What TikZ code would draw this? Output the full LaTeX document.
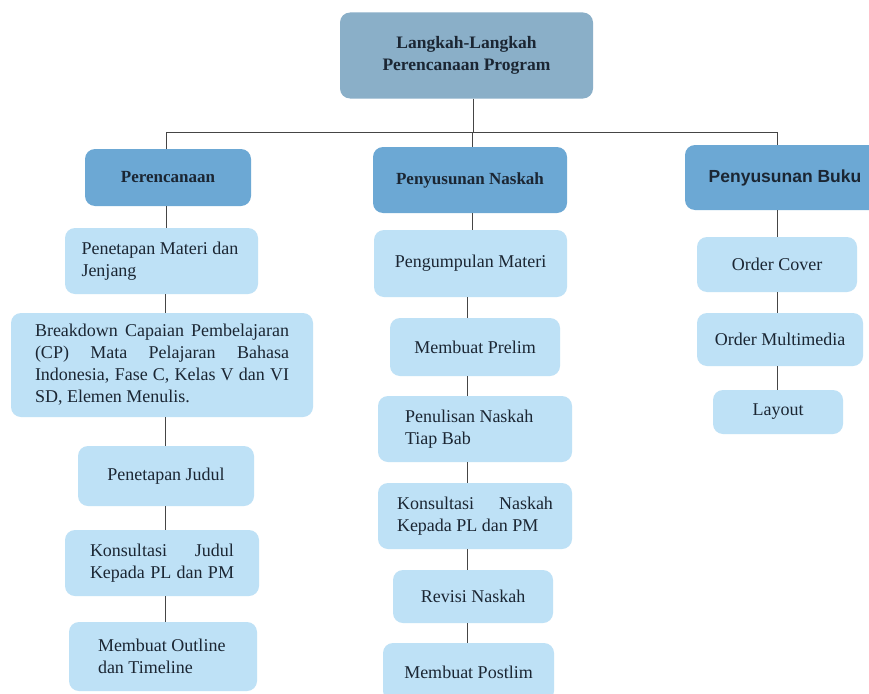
\documentclass[tikz,border=0pt]{standalone}
\usepackage{fontspec}
\setmainfont{Liberation Serif}
\newfontfamily\sansfnt{Liberation Sans}
\definecolor{topc}{HTML}{8AAFC8}
\definecolor{midc}{HTML}{6CA8D4}
\definecolor{lowc}{HTML}{BEE1F6}
\definecolor{txtc}{HTML}{1B2633}
\definecolor{linec}{HTML}{454545}
\tikzset{
  base/.style={rounded corners=10pt, inner sep=0pt, text=txtc, anchor=center},
  sz/.style 2 args={minimum width=#1pt, minimum height=#2pt},
  topbox/.style={base, fill=topc, font=\fontsize{17.5}{22}\selectfont\bfseries, align=center},
  midbox/.style={base, fill=midc, font=\fontsize{17}{21}\selectfont\bfseries},
  lowbox/.style={base, fill=lowc, font=\fontsize{18}{22}\selectfont, align=center},
  conn/.style={draw=linec, line width=1pt},
}
\begin{document}
\begin{tikzpicture}[x=1pt,y=-1pt]
\useasboundingbox (0,0) rectangle (869,693);
\clip (0,0) rectangle (869,693);
\fill[white] (0,0) rectangle (869,693);

% column x positions and bus
\coordinate (bus) at (0,132);
\coordinate (xT) at (473,0);
\coordinate (xL0) at (166.5,0);
\coordinate (xL1) at (165,0);
\coordinate (xM0) at (472,0);
\coordinate (xM1) at (467,0);
\coordinate (xR0) at (777,0);

% nodes
\node[topbox, sz={253}{86}] (top) at (466.5,55.5) {Langkah-Langkah\\Perencanaan Program};
\node[midbox, sz={166}{57}] (p1) at (168,177.5) {Perencanaan};
\node[midbox, sz={194}{66}] (p2) at (470,180) {Penyusunan Naskah};
\node[midbox, sz={200}{65}, font=\sansfnt\fontsize{17.5}{21}\selectfont\bfseries] (p3) at (785,177.5) {Penyusunan Buku};

\node[lowbox, sz={193}{66}] (a1) at (161.5,261) {\makebox[160pt][l]{Penetapan Materi dan}\\\makebox[160pt][l]{Jenjang}};
\node[lowbox, sz={302}{104}] (a2) at (162,365) {\makebox[254pt][s]{Breakdown Capaian Pembelajaran}\\\makebox[254pt][s]{(CP) Mata Pelajaran Bahasa}\\\makebox[254pt][s]{Indonesia, Fase C, Kelas V dan VI}\\\makebox[254pt][l]{SD, Elemen Menulis.}};
\node[lowbox, sz={176}{60}] (a3) at (166,476) {Penetapan Judul};
\node[lowbox, sz={194}{66}] (a4) at (162,563) {\makebox[144pt][s]{Konsultasi Judul}\\\makebox[144pt][s]{Kepada PL dan PM}};
\node[lowbox, sz={188}{69}] (a5) at (163,656.5) {\makebox[130pt][l]{Membuat Outline}\\\makebox[130pt][l]{dan Timeline}};

\node[lowbox, sz={193}{67}] (b1) at (470.5,263.5) {Pengumpulan Materi};
\node[lowbox, sz={170}{58}] (b2) at (475,347) {Membuat Prelim};
\node[lowbox, sz={194}{66}] (b3) at (475,429) {\makebox[140pt][l]{Penulisan Naskah}\\\makebox[140pt][l]{Tiap Bab}};
\node[lowbox, sz={194}{66}] (b4) at (475,516) {\makebox[156pt][s]{Konsultasi Naskah}\\\makebox[156pt][l]{Kepada PL dan PM}};
\node[lowbox, sz={160}{53}] (b5) at (473,596.5) {Revisi Naskah};
\node[lowbox, sz={171}{58}] (b6) at (468.5,672) {Membuat Postlim};

\node[lowbox, sz={160}{55}] (c1) at (777,264.5) {Order Cover};
\node[lowbox, sz={166}{53}] (c2) at (780,339.5) {Order Multimedia};
\node[lowbox, sz={130}{44}] (c3) at (778,412) {Layout};

% connectors
\draw[conn] (top.south -| xT) -- (bus -| xT);
\draw[conn] (bus -| xL0) -- (bus -| xR0);
\draw[conn] (bus -| xL0) -- (p1.north -| xL0);
\draw[conn] (bus -| xM0) -- (p2.north -| xM0);
\draw[conn] (bus -| xR0) -- (p3.north -| xR0);

\draw[conn] (p1.south -| xL0) -- (a1.north -| xL0);
\draw[conn] (a1.south -| xL1) -- (a2.north -| xL1);
\draw[conn] (a2.south -| xL1) -- (a3.north -| xL1);
\draw[conn] (a3.south -| xL1) -- (a4.north -| xL1);
\draw[conn] (a4.south -| xL1) -- (a5.north -| xL1);

\draw[conn] (p2.south -| xM0) -- (b1.north -| xM0);
\draw[conn] (b1.south -| xM1) -- (b2.north -| xM1);
\draw[conn] (b2.south -| xM1) -- (b3.north -| xM1);
\draw[conn] (b3.south -| xM1) -- (b4.north -| xM1);
\draw[conn] (b4.south -| xM1) -- (b5.north -| xM1);
\draw[conn] (b5.south -| xM1) -- (b6.north -| xM1);

\draw[conn] (p3.south -| xR0) -- (c1.north -| xR0);
\draw[conn] (c1.south -| xR0) -- (c2.north -| xR0);
\draw[conn] (c2.south -| xR0) -- (c3.north -| xR0);
\end{tikzpicture}
\end{document}
